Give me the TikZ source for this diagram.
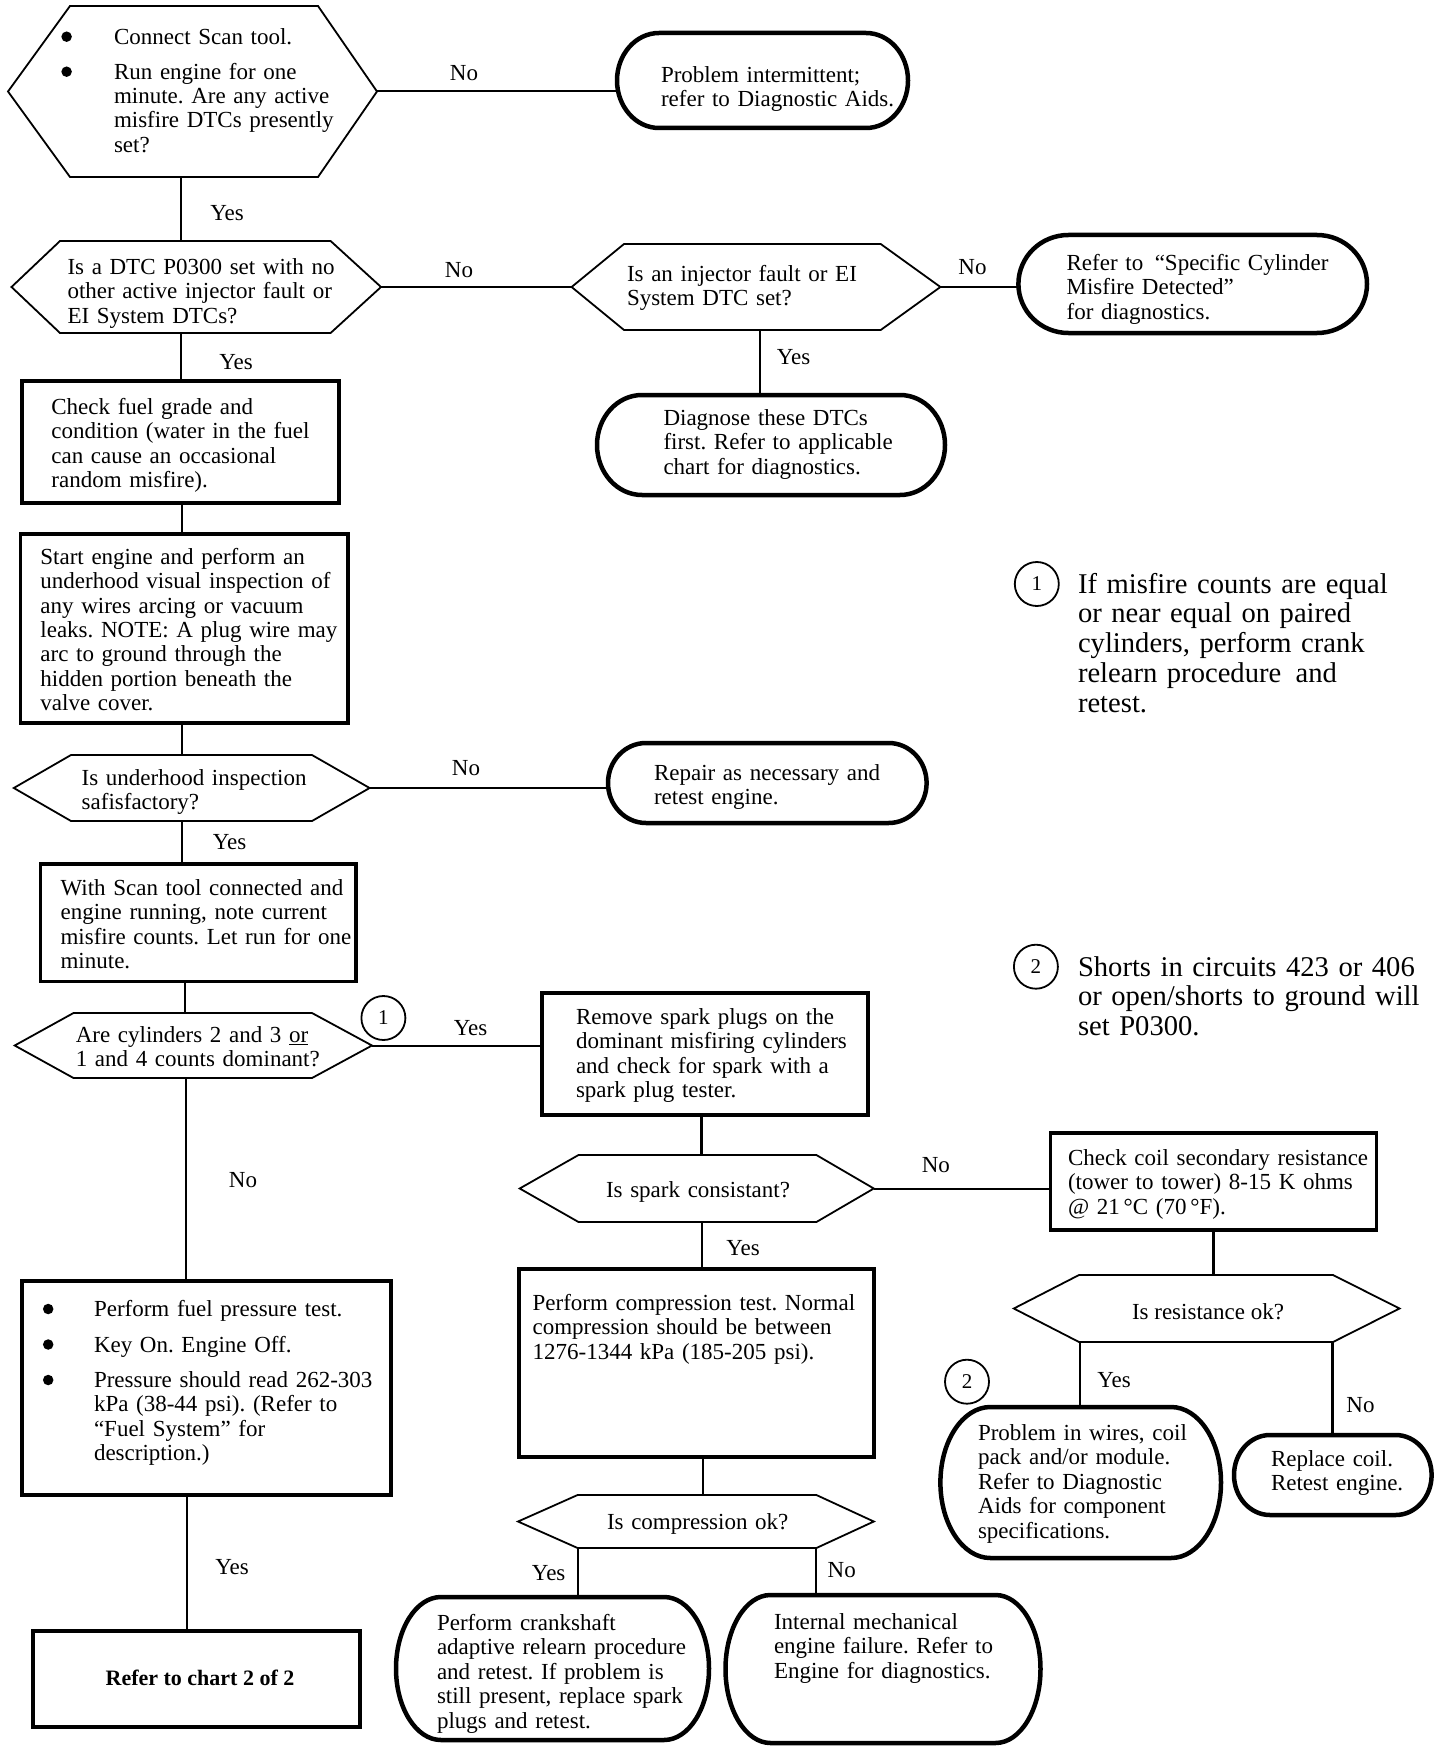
\documentclass[tikz,border=0pt]{standalone}
\usepackage{fontspec}
\setmainfont{Liberation Serif}
\frenchspacing
\newcommand\myMainFs{\fontsize{23pt}{24.4pt}\selectfont\frenchspacing}
\newcommand\myNoteFs{\fontsize{28.6pt}{29.8pt}\selectfont\frenchspacing}
\newcommand\myCircFs{\fontsize{21pt}{22pt}\selectfont}
\tikzset{
  shapebox/.style={inner sep=0pt, outer sep=0pt, draw=none},
  hexline/.style={line width=1.8pt, line join=miter},
  rectbox/.style={draw, line width=3.5pt, inner sep=0pt, outer sep=0pt},
  termline/.style={line width=4.5pt},
  conn/.style={line width=2pt},
  txt/.style={inner sep=0pt, outer sep=0pt, anchor=base west, align=left, font=\myMainFs},
  lbl/.style={inner sep=0pt, outer sep=0pt, font=\myMainFs},
  note/.style={inner sep=0pt, outer sep=0pt, anchor=base west, align=left, font=\myNoteFs},
  circ/.style={draw, circle, line width=1.8pt, minimum size=44pt, inner sep=0pt, font=\myCircFs},
  bulletdot/.style={circle, fill=black, draw=none, minimum size=10.5pt, inner sep=0pt},
}
% hexagon: name, xl, xtl, xtr, xr, yt, yb
\newcommand\mkhex[7]{%
  \pgfmathsetmacro\hbw{#5-#2}\pgfmathsetmacro\hbh{#7-#6}%
  \pgfmathsetmacro\hbcx{(#2+#5)/2}\pgfmathsetmacro\hbcy{(#6+#7)/2}%
  \node[shapebox, minimum width=\hbw pt, minimum height=\hbh pt] (#1) at (\hbcx,\hbcy) {};
  \draw[hexline] (#2,\hbcy) -- (#3,#6) -- (#4,#6) -- (#5,\hbcy) -- (#4,#7) -- (#3,#7) -- cycle;
}
% terminator: name, xl, yt, xr, yb, rx
\newcommand\mkterm[6]{%
  \pgfmathsetmacro\tbw{#4-#2}\pgfmathsetmacro\tbh{#5-#3}%
  \pgfmathsetmacro\tbcx{(#2+#4)/2}\pgfmathsetmacro\tbcy{(#3+#5)/2}%
  \pgfmathsetmacro\tbry{(#5-#3)/2}%
  \node[shapebox, minimum width=\tbw pt, minimum height=\tbh pt] (#1) at (\tbcx,\tbcy) {};
  \draw[termline] (#2+#6,#3) -- (#4-#6,#3)
    arc[start angle=90, end angle=-90, x radius=#6pt, y radius=\tbry pt]
    -- (#2+#6,#5)
    arc[start angle=270, end angle=90, x radius=#6pt, y radius=\tbry pt] -- cycle;
}
% rectangle: name, xl, yt, xr, yb
\newcommand\mkrect[5]{%
  \pgfmathsetmacro\rbw{#4-#2}\pgfmathsetmacro\rbh{#5-#3}%
  \pgfmathsetmacro\rbcx{(#2+#4)/2}\pgfmathsetmacro\rbcy{(#3+#5)/2}%
  \node[rectbox, minimum width=\rbw pt, minimum height=\rbh pt] (#1) at (\rbcx,\rbcy) {};
}
\begin{document}
\begin{tikzpicture}[x=1pt,y=-1pt]
\path[use as bounding box, fill=white] (0,0) rectangle (1440,1752);

% ---------- shapes ----------
\mkhex{H1}{8}{70}{318}{377}{6}{177}
\mkterm{T1}{617}{33}{908}{128}{42}
\mkhex{H2}{11.5}{60}{330.6}{381}{241}{333}
\mkhex{H3}{571.6}{624}{880.7}{940.4}{244}{330}
\mkterm{T2}{1018.4}{235}{1367}{333}{50}
\mkterm{T3}{597}{395}{945}{495}{45}
\mkrect{R1}{22}{381}{339}{503}
\mkrect{R2}{20.7}{534}{348}{723}
\mkhex{H4}{13.8}{71}{312}{369.6}{755}{821}
\mkterm{T4}{608}{743}{926.6}{823}{38}
\mkrect{R3}{40.4}{864}{355.8}{981.7}
\mkhex{H5}{14.7}{73.5}{312}{372}{1013}{1078}
\mkrect{R4}{541.8}{993}{867.8}{1115}
\mkhex{H6}{519.7}{578.5}{816.4}{873.8}{1155}{1222}
\mkrect{R5}{1050.6}{1133}{1376.6}{1230}
\mkhex{H7}{1013.8}{1079}{1333}{1399.5}{1275}{1342}
\mkrect{R6}{518.8}{1269}{873.8}{1457}
\mkhex{H8}{518}{577.6}{816.4}{873.8}{1495}{1548}
\mkterm{T5}{396}{1597}{709}{1740}{45}
\mkterm{T6}{725.5}{1595}{1040.5}{1743}{45}
\mkterm{T7}{940.4}{1407}{1221}{1558}{50}
\mkterm{T8}{1234}{1435}{1431.6}{1515}{36}
\mkrect{R7}{22}{1281}{391}{1495}
\mkrect{R8}{33}{1631}{360}{1727}

% ---------- connector columns ----------
\coordinate (sp1) at (180.5,0);
\coordinate (sp2) at (182,0);
\coordinate (sp3) at (184.6,0);
\coordinate (sp4) at (185.5,0);
\coordinate (sp5) at (187,0);
\coordinate (sp6) at (760.4,0);
\coordinate (sp7) at (701.6,0);
\coordinate (sp8) at (702.5,0);
\coordinate (sp9) at (577.6,0);
\coordinate (sp10) at (816,0);
\coordinate (sp11) at (1213.6,0);
\coordinate (sp12) at (1080,0);
\coordinate (sp13) at (1332,0);

% ---------- connectors ----------
\draw[conn] (H1.east) -- (H1.east -| T1.west);
\draw[conn] (H1.south -| sp1) -- (H2.north -| sp1);
\draw[conn] (H2.east) -- (H2.east -| H3.west);
\draw[conn] (H3.east) -- (H3.east -| T2.west);
\draw[conn] (H3.south -| sp6) -- (T3.north -| sp6);
\draw[conn] (H2.south -| sp1) -- (R1.north -| sp1);
\draw[conn] (R1.south -| sp2) -- (R2.north -| sp2);
\draw[conn] (R2.south -| sp2) -- (H4.north -| sp2);
\draw[conn] (H4.east) -- (H4.east -| T4.west);
\draw[conn] (H4.south -| sp2) -- (R3.north -| sp2);
\draw[conn] (R3.south -| sp3) -- (H5.north -| sp3);
\draw[conn] (H5.east) -- (H5.east -| R4.west);
\draw[conn] (H5.south -| sp4) -- (R7.north -| sp4);
\draw[conn] (R7.south -| sp5) -- (R8.north -| sp5);
\draw[conn, line width=3pt] (R4.south -| sp7) -- (H6.north -| sp7);
\draw[conn] (H6.east) -- (H6.east -| R5.west);
\draw[conn, line width=3pt] (R5.south -| sp11) -- (H7.north -| sp11);
\draw[conn] (H6.south -| sp7) -- (R6.north -| sp7);
\draw[conn] (R6.south -| sp8) -- (H8.north -| sp8);
\draw[conn] (H8.south -| sp9) -- (T5.north -| sp9);
\draw[conn] (H8.south -| sp10) -- (T6.north -| sp10);
\draw[conn] (H7.south -| sp12) -- (T7.north -| sp12);
\draw[conn, line width=3pt] (H7.south -| sp13) -- (T8.north -| sp13);

% ---------- connector labels ----------
\node[lbl] (L1) at (464,73) {No};
\node[lbl] (L2) at (227,213) {Yes};
\node[lbl] (L3) at (459,270) {No};
\node[lbl] (L4) at (236,362) {Yes};
\node[lbl] (L5) at (972.5,267) {No};
\node[lbl] (L6) at (793.5,357) {Yes};
\node[lbl] (L7) at (466,768) {No};
\node[lbl] (L8) at (229.6,841.7) {Yes};
\node[lbl] (L9) at (470.6,1028) {Yes};
\node[lbl] (L10) at (243,1180) {No};
\node[lbl] (L11) at (935.8,1165) {No};
\node[lbl] (L12) at (743,1248) {Yes};
\node[lbl] (L13) at (548.7,1573) {Yes};
\node[lbl] (L14) at (841.7,1570) {No};
\node[lbl] (L15) at (1114,1380) {Yes};
\node[lbl] (L16) at (1360.5,1405) {No};
\node[lbl] (L17) at (232,1566.7) {Yes};

% ---------- texts ----------
\node[bulletdot] (H1b1) at (66.6,36.7) {};
\node[bulletdot] (H1b2) at (66.6,71.7) {};
\node[txt, text width=250pt] (H1t) at (114,44.2) {Connect Scan tool.\\[10.6pt]Run engine for one\\minute. Are any active\\misfire DTCs presently\\set?};
\node[txt, text width=260pt] (T1t) at (661,82.5) {Problem intermittent;\\refer to Diagnostic Aids.};
\node[txt, text width=300pt] (H2t) at (67.5,274.5) {Is a DTC P0300 set with no\\other active injector fault or\\EI System DTCs?};
\node[txt, text width=270pt] (H3t) at (627,281.5) {Is an injector fault or EI\\System DTC set?};
\node[txt, text width=295pt] (T2t) at (1066.6,270.5) {Refer to\enspace “Specific Cylinder\\Misfire Detected”\\for diagnostics.};
\node[txt, text width=270pt] (T3t) at (663.5,425.5) {Diagnose these DTCs\\first. Refer to applicable\\chart for diagnostics.};
\node[txt, text width=295pt] (R1t) at (51.4,414.2) {Check fuel grade and\\condition (water in the fuel\\can cause an occasional\\random misfire).};
\node[txt, text width=330pt] (R2t) at (40.4,564.2) {Start engine and perform an\\underhood visual inspection of\\any wires arcing or vacuum\\leaks. NOTE: A plug wire may\\arc to ground through the\\hidden portion beneath the\\valve cover.};
\node[txt, text width=260pt] (H4t) at (81.7,785.5) {Is underhood inspection\\safisfactory?};
\node[txt, text width=260pt] (T4t) at (654,780.5) {Repair as necessary and\\retest engine.};
\node[circ] (C1) at (1036.8,584) {1};
\node[note, text width=355pt] (N1) at (1078,593) {If misfire counts are equal\\or near equal on paired\\cylinders, perform crank\\relearn procedure\enspace and\\retest.};
\node[txt, text width=330pt] (R3t) at (60.6,895.5) {With Scan tool connected and\\engine running, note current\\misfire counts. Let run for one\\minute.};
\node[txt, text width=270pt] (H5t) at (75.8,1042.5) {Are cylinders 2 and 3 \underline{or}\\1 and 4 counts dominant?};
\node[circ] (C1b) at (383.4,1018) {1};
\node[txt, text width=310pt] (R4t) at (576,1024.2) {Remove spark plugs on the\\dominant misfiring cylinders\\and check for spark with a\\spark plug tester.};
\node[circ] (C2) at (1035.9,966.7) {2};
\node[note, text width=360pt] (N2) at (1078,976) {Shorts in circuits 423 or 406\\or open/shorts to ground will\\set P0300.};
\node[txt, text width=240pt] (H6t) at (606,1197.5) {Is spark consistant?};
\node[txt, text width=330pt] (R5t) at (1068,1165.5) {Check coil secondary resistance\\(tower to tower) 8-15 K ohms\\@ 21\,°C (70\,°F).};
\node[lbl, anchor=base] (H7t) at (1208,1319.2) {Is resistance ok?};
\node[txt, text width=370pt] (R6t) at (532.6,1310.5) {Perform compression test. Normal\\compression should be between\\1276-1344 kPa (185-205 psi).};
\node[txt, text width=240pt] (H8t) at (607,1529) {Is compression ok?};
\node[txt, text width=290pt] (T5t) at (437,1630.5) {Perform crankshaft\\adaptive relearn procedure\\and retest. If problem is\\still present, replace spark\\plugs and retest.};
\node[txt, text width=260pt] (T6t) at (774,1629.2) {Internal mechanical\\engine failure. Refer to\\Engine for diagnostics.};
\node[txt, text width=245pt] (T7t) at (978,1440.5) {Problem in wires, coil\\pack and/or module.\\Refer to Diagnostic\\Aids for component\\specifications.};
\node[circ] (C2b) at (967,1381.7) {2};
\node[txt, text width=165pt] (T8t) at (1271,1466.5) {Replace coil.\\Retest engine.};
\node[bulletdot] (R7b1) at (48.2,1309) {};
\node[bulletdot] (R7b2) at (48.2,1344.5) {};
\node[bulletdot] (R7b3) at (48.2,1380) {};
\node[txt, text width=305pt] (R7t) at (94,1316.5) {Perform fuel pressure test.\\[11.1pt]Key On. Engine Off.\\[11.1pt]Pressure should read 262-303\\kPa (38-44 psi). (Refer to\\“Fuel System” for\\description.)};
\node[lbl, anchor=base, font=\fontsize{22pt}{24pt}\selectfont\bfseries] (R8t) at (200,1685.5) {Refer to chart 2 of 2};
\end{tikzpicture}
\end{document}
